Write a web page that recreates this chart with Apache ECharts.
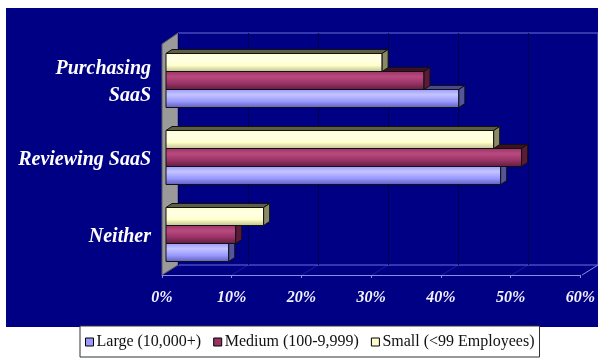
<!DOCTYPE html>
<html>
<head>
<meta charset="utf-8">
<script src="https://cdn.jsdelivr.net/npm/echarts@6/dist/echarts.min.js"></script>
<style>
  html, body { margin: 0; padding: 0; background: #ffffff; }
  #chart { width: 598px; height: 361px; }
</style>
</head>
<body>
<div id="chart"></div>
<script>
// Survey: share of companies purchasing / reviewing SaaS, by company size (%)
const categories = ['Purchasing\nSaaS', 'Reviewing SaaS', 'Neither'];
const seriesNames = ['Large (10,000+)', 'Medium (100-9,999)', 'Small (<99 Employees)'];
const largeValues = [42, 48, 9];
const mediumValues = [37, 51, 10];
const smallValues = [31, 47, 14];
const tickMax = 60;
const tickStep = 10;

// Geometry of the pseudo-3D box: front plane, back wall and bar depth
const FRONT = { left: 162, top: 44, width: 420, height: 231 };
const BACK = { left: 178, top: 33, width: 420, height: 232 };
const BAR_H = 18;          // thickness of one bar
const SHIFT_X = 4;         // bars sit slightly behind the front plane
const SHIFT_Y = -2;
const CAP_DX = 6;          // depth of the bar's top and end faces
const CAP_DY = 4;

const palette = [
  { base: '#9999ff', light: '#c4c4ff', dark: '#5c5cb8', top: '#4a4a8a', side: '#55559a' },
  { base: '#993366', light: '#b94a7f', dark: '#5e1c3c', top: '#3e1026', side: '#5a1a38' },
  { base: '#ffffcc', light: '#ffffe8', dark: '#bdbd8e', top: '#5e5e44', side: '#8a8a66' }
];

function renderBar(params, api) {
  const k = params.seriesIndex;
  const cat = api.value(1);
  const p0 = api.coord([0, cat]);
  const p1 = api.coord([api.value(0), cat]);
  const yc = p0[1] + (1 - k) * BAR_H + SHIFT_Y;
  const x0 = p0[0] + SHIFT_X;
  const x1 = p1[0] + SHIFT_X;
  const yt = yc - BAR_H / 2;
  const yb = yc + BAR_H / 2;
  const c = palette[k];
  const faceFill = new echarts.graphic.LinearGradient(0, 0, 0, 1, [
    { offset: 0, color: c.base },
    { offset: 0.3, color: c.light },
    { offset: 0.65, color: c.base },
    { offset: 1, color: c.dark }
  ]);
  return {
    type: 'group',
    children: [
      { type: 'polygon',
        shape: { points: [[x0, yt], [x1, yt], [x1 + CAP_DX, yt - CAP_DY], [x0 + CAP_DX, yt - CAP_DY]] },
        style: { fill: c.top, stroke: '#111', lineWidth: 1 } },
      { type: 'rect',
        shape: { x: x0, y: yt, width: x1 - x0, height: BAR_H },
        style: { fill: faceFill, stroke: '#111', lineWidth: 1 } },
      { type: 'polygon',
        shape: { points: [[x1, yt], [x1 + CAP_DX, yt - CAP_DY], [x1 + CAP_DX, yb - CAP_DY], [x1, yb]] },
        style: { fill: c.side, stroke: '#111', lineWidth: 1 } }
    ]
  };
}

const valueSets = [largeValues, mediumValues, smallValues];
const series = valueSets.map((vals, k) => ({
  name: seriesNames[k],
  type: 'custom',
  xAxisIndex: 0,
  yAxisIndex: 0,
  renderItem: renderBar,
  encode: { x: 0, y: 1 },
  itemStyle: { color: palette[k].base },
  data: vals.map((v, i) => [v, i]),
  z: 5
}));

// Floor decorations: diagonal lines joining front ticks to back ticks
const floorLines = [];
for (let t = 0; t <= tickMax; t += tickStep) {
  const fx = FRONT.left + FRONT.width * t / tickMax;
  const bx = BACK.left + BACK.width * t / tickMax;
  floorLines.push({
    type: 'line', z: -4, silent: true,
    shape: { x1: fx, y1: FRONT.top + FRONT.height, x2: bx, y2: BACK.top + BACK.height },
    style: { stroke: t === tickMax ? '#8c8ce6' : '#1a1aa6', lineWidth: 1 }
  });
}

const chart = echarts.init(document.getElementById('chart'), null, { renderer: 'canvas' });
chart.setOption({
  animation: false,
  backgroundColor: '#ffffff',
  textStyle: { fontFamily: 'Liberation Serif' },
  graphic: {
    elements: [
      { type: 'rect', z: -10, silent: true,
        shape: { x: 6, y: 8, width: 592, height: 319 },
        style: { fill: '#000085' } },
      { type: 'polygon', z: -3, silent: true,
        shape: { points: [[FRONT.left, FRONT.top], [BACK.left, BACK.top],
                          [BACK.left, BACK.top + BACK.height], [FRONT.left, FRONT.top + FRONT.height]] },
        style: { fill: '#9a9a9a', stroke: '#5a5a5a', lineWidth: 1 } }
    ].concat(floorLines)
  },
  grid: [
    { left: FRONT.left, top: FRONT.top, width: FRONT.width, height: FRONT.height, show: false },
    { left: BACK.left, top: BACK.top, width: BACK.width, height: BACK.height,
      show: true, backgroundColor: 'transparent', borderColor: '#6c6cd6', borderWidth: 1 }
  ],
  xAxis: [
    { type: 'value', gridIndex: 0, min: 0, max: tickMax, interval: tickStep,
      axisLine: { show: true, lineStyle: { color: '#8c8ce6', width: 1 } },
      axisTick: { show: true, length: 3, lineStyle: { color: '#8c8ce6' } },
      splitLine: { show: false },
      axisLabel: { formatter: '{value}%', color: '#f2f2ff', fontFamily: 'Liberation Serif',
        fontStyle: 'italic', fontWeight: 'bold', fontSize: 16, margin: 15 } },
    { type: 'value', gridIndex: 1, min: 0, max: tickMax, interval: tickStep,
      axisLine: { show: false }, axisTick: { show: false }, axisLabel: { show: false },
      splitLine: { show: true, lineStyle: { color: '#00004c', width: 1 } } }
  ],
  yAxis: [
    { type: 'category', gridIndex: 0, data: categories, inverse: true,
      axisLine: { show: false }, axisTick: { show: false }, splitLine: { show: false },
      axisLabel: { color: '#ffffff', fontFamily: 'Liberation Serif', fontStyle: 'italic',
        fontWeight: 'bold', fontSize: 20, lineHeight: 27, margin: 11, align: 'right' } },
    { type: 'value', gridIndex: 1, min: 0, max: 1,
      axisLine: { show: false }, axisTick: { show: false }, axisLabel: { show: false },
      splitLine: { show: false } }
  ],
  legend: {
    data: seriesNames.map(n => ({ name: n, icon: 'rect' })),
    left: 80, top: 326,
    padding: [8, 5, 7, 5],
    itemWidth: 8, itemHeight: 8, itemGap: 12,
    backgroundColor: '#ffffff', borderColor: '#333', borderWidth: 1,
    itemStyle: { borderColor: '#000', borderWidth: 1 },
    textStyle: { color: '#111', fontFamily: 'Liberation Serif', fontSize: 16, padding: [0, 0, 0, -2] }
  },
  series: series
});
</script>
</body>
</html>
